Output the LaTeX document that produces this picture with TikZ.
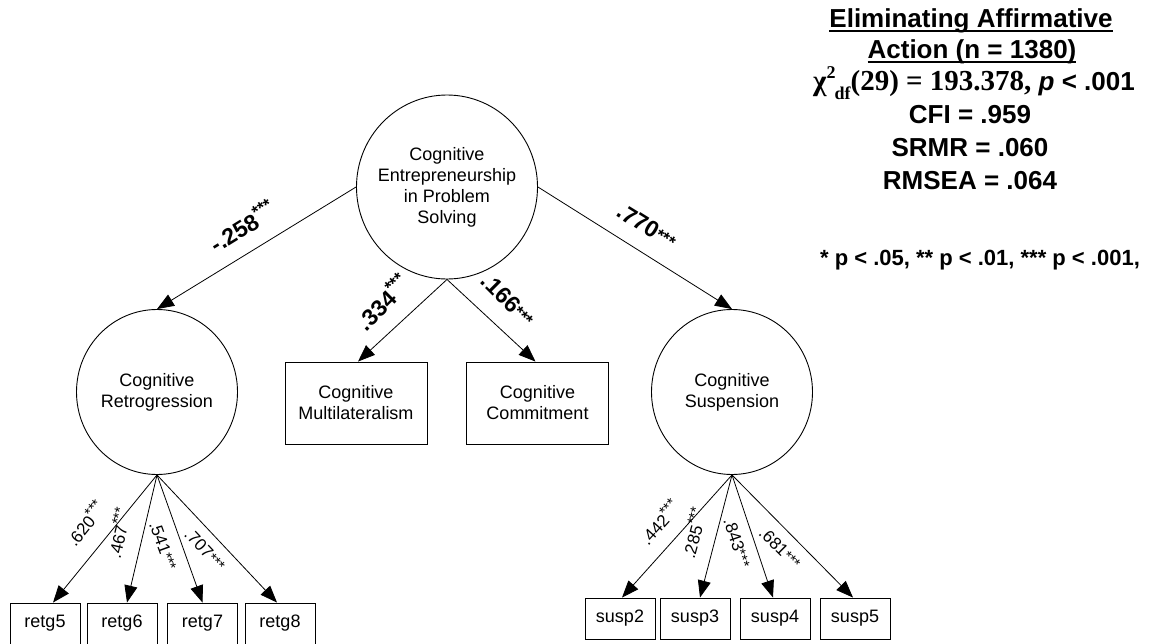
\documentclass[tikz,border=0pt]{standalone}
\usepackage{fontspec}
\setmainfont{Liberation Sans}
\newfontfamily\serifbold{Liberation Serif}
\usetikzlibrary{arrows.meta,shapes.geometric}

% thick underline for the heading
\newcommand\thickul[1]{\setbox0\hbox{#1}\rlap{\rule[-4pt]{\wd0}{1.8pt}}\box0}
% significance stars, raised by #1, set at size #2
\newcommand\sigstars[2]{\raisebox{#1}{\fontsize{#2}{#2}\selectfont ***}}

\tikzset{
  latent/.style={draw, ellipse, line width=0.9pt, inner sep=0pt},
  lbl/.style={align=center, font=\fontsize{18}{21}\selectfont},
  obsbox/.style={draw, rectangle, line width=0.9pt, inner sep=0pt, align=center,
    minimum width=142pt, minimum height=82pt, font=\fontsize{18}{21}\selectfont},
  indbox/.style={draw, rectangle, line width=0.9pt, inner sep=0pt,
    minimum width=70pt, minimum height=41pt, font=\fontsize{18}{21}\selectfont},
  regarrow/.style={line width=0.8pt, -{Triangle[length=17pt,width=13pt]}},
  coef/.style={inner sep=0pt, font=\bfseries\fontsize{23}{26}\selectfont},
  load/.style={inner sep=0pt, font=\fontsize{17}{19}\selectfont},
  stat/.style={inner sep=0pt, font=\bfseries\fontsize{26}{30}\selectfont}
}

\begin{document}
\begin{tikzpicture}[x=1pt,y=-1pt]
\useasboundingbox (0,0) rectangle (1154,643);
\fill[white] (0,0) rectangle (1154,643);

% latent factors
\node[latent, minimum width=181pt, minimum height=184pt,
  label={[lbl]center:{Cognitive\\Entrepreneurship\\in Problem\\Solving}}] (cep) at (447,187) {};
\node[latent, minimum width=161pt, minimum height=165pt,
  label={[lbl]center:{Cognitive\\Retrogression}}] (ret) at (157,392) {};
\node[latent, minimum width=161pt, minimum height=165pt,
  label={[lbl]center:{Cognitive\\Suspension}}] (sus) at (732,392) {};

% single-indicator constructs
\node[obsbox] (mul) at (356,403) {Cognitive\\Multilateralism};
\node[obsbox] (com) at (537.5,403) {Cognitive\\Commitment};

% indicators
\node[indbox] (r5) at (45,623.5) {retg5};
\node[indbox] (r6) at (122,623.5) {retg6};
\node[indbox] (r7) at (202.5,623.5) {retg7};
\node[indbox] (r8) at (280,623.5) {retg8};
\node[indbox] (s2) at (620,618.5) {susp2};
\node[indbox] (s3) at (695,618.5) {susp3};
\node[indbox] (s4) at (775,618.5) {susp4};
\node[indbox] (s5) at (855,618.5) {susp5};

% structural paths
\draw[regarrow] (cep.west) -- (ret.north);
\draw[regarrow] (cep.east) -- (sus.north);
\draw[regarrow] (cep.south) -- ([xshift=2pt]mul.north);
\draw[regarrow] (cep.south) -- ([xshift=-2pt]com.north);

% measurement paths
\draw[regarrow] (ret.south) -- ([xshift=8pt]r5.north);
\draw[regarrow] (ret.south) -- ([xshift=5pt]r6.north);
\draw[regarrow] (ret.south) -- (r7.north);
\draw[regarrow] (ret.south) -- ([xshift=-3pt]r8.north);
\draw[regarrow] (sus.south) -- ([xshift=2pt]s2.north);
\draw[regarrow] (sus.south) -- ([xshift=5pt]s3.north);
\draw[regarrow] (sus.south) -- ([xshift=-2pt]s4.north);
\draw[regarrow] (sus.south) -- ([xshift=-2pt]s5.north);

% structural coefficients
\node[coef, rotate=31.7] (k1) at (242,226) {-.258\sigstars{0.42em}{17}};
\node[coef, rotate=45] (k2) at (382,302) {.334\sigstars{0.42em}{17}};
\node[coef, rotate=-45] (k3) at (508,300) {.166\sigstars{0.05em}{17}};
\node[coef, rotate=-31.7] (k4) at (647,226) {.770\sigstars{0.05em}{17}};

% loadings
\node[load, rotate=51] (l5) at (85,523) {.620\sigstars{0.38em}{15}};
\node[load, rotate=77] (l6) at (118,533) {.467\sigstars{0.38em}{15}};
\node[load, rotate=-70] (l7) at (163,546) {.541\sigstars{0.05em}{15}};
\node[load, rotate=-47] (l8) at (205,550) {.707\sigstars{0.05em}{15}};
\node[load, rotate=48] (m2) at (659,522) {.442\sigstars{0.38em}{15}};
\node[load, rotate=75] (m3) at (693,533) {.285\sigstars{0.38em}{15}};
\node[load, rotate=-71] (m4) at (737,543) {.843\sigstars{0.05em}{15}};
\node[load, rotate=-45] (m5) at (780,548) {.681\sigstars{0.05em}{15}};

% model fit summary
\node[stat] (t1) at (971,21) {\thickul{Eliminating Affirmative}};
\node[stat] (t2) at (972,52) {\thickul{Action (n = 1380)}};
\node[stat] (chi) at (974,83) {{\serifbold\fontsize{29}{30}\selectfont χ\raisebox{0.42em}{\fontsize{18}{18}\selectfont 2}\kern-1pt\raisebox{-0.3em}{\fontsize{18}{18}\selectfont df}(29) = 193.378,} \textit{p} < .001};
\node[stat] (cfi) at (970,115) {CFI = .959};
\node[stat] (srmr) at (970,148) {SRMR = .060};
\node[stat] (rmsea) at (970,181) {RMSEA = .064};
\node[inner sep=0pt, font=\bfseries\fontsize{22}{26}\selectfont] (note) at (980,260) {* p < .05, ** p < .01, *** p < .001,};
\end{tikzpicture}
\end{document}
